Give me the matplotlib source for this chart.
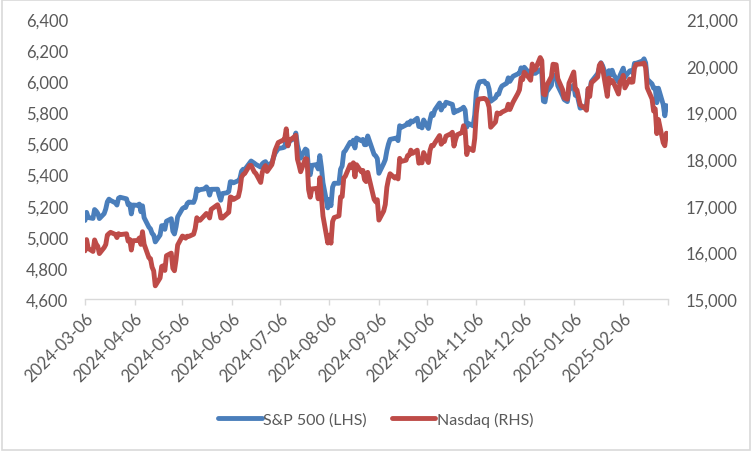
import numpy as np
import pandas as pd
import matplotlib
matplotlib.use("Agg")
import matplotlib.pyplot as plt
from matplotlib.patches import Rectangle

plt.rcParams['font.family'] = ['Lato', 'DejaVu Sans']

# market holidays inside the window (no close)
holidays = ['2024-03-29', '2024-05-27', '2024-06-19', '2024-07-04', '2024-09-02',
            '2024-11-28', '2024-12-25', '2025-01-01', '2025-01-09', '2025-01-20',
            '2025-02-17']

# S&P 500 daily close, 2024-03-06 .. 2025-03-05
spx = [
    5105, 5157, 5124, 5118, 5175, 5165, 5150, 5117, 5149, 5179, 5225, 5242, 5234, 5218, 5204, 5248, 5254,
    5244, 5206, 5211, 5147, 5204, 5202, 5210, 5161, 5199, 5123, 5062, 5051, 5022, 5011, 4967, 5011, 5071,
    5072, 5048, 5100, 5116, 5036,
    5018, 5064, 5128, 5181, 5188, 5188, 5214, 5223, 5221, 5247, 5308, 5297, 5303, 5308, 5321, 5307, 5268,
    5305, 5306, 5267, 5235, 5278,
    5283, 5291, 5354, 5353, 5347, 5361, 5375, 5421, 5434, 5432, 5473, 5487, 5473, 5465, 5448, 5469, 5478,
    5483, 5460,
    5475, 5509, 5537, 5567, 5573, 5577, 5634, 5585, 5615, 5631, 5667, 5588, 5545, 5505, 5564, 5556, 5427,
    5399, 5459, 5464, 5436, 5522,
    5447, 5347, 5186, 5240, 5200, 5319, 5344, 5344, 5434, 5455, 5543, 5554, 5608, 5597, 5621, 5571, 5635,
    5617, 5626, 5592, 5592, 5648,
    5529, 5520, 5503, 5408, 5471, 5496, 5554, 5596, 5626, 5633, 5635, 5618, 5714, 5703, 5719, 5733, 5722,
    5745, 5738, 5762,
    5709, 5710, 5700, 5751, 5696, 5751, 5792, 5780, 5815, 5860, 5815, 5842, 5841, 5865, 5854, 5851, 5797,
    5810, 5808, 5824, 5833, 5814, 5705,
    5729, 5713, 5783, 5929, 5973, 5996, 6001, 5984, 5985, 5949, 5871, 5894, 5917, 5917, 5949, 5969, 5987,
    6022, 5999, 6032,
    6047, 6050, 6086, 6075, 6090, 6053, 6035, 6084, 6051, 6051, 6074, 6051, 5872, 5867, 5931, 5974, 6040,
    6038, 5971, 5907, 5882,
    5869, 5942, 5975, 5909, 5918, 5827, 5836, 5843, 5950, 5937, 5997, 6049, 6086, 6119, 6101, 6012, 6068,
    6039, 6071, 6041,
    5995, 6038, 6061, 6084, 6026, 6066, 6069, 6052, 6115, 6115, 6130, 6144, 6118, 6013, 5983, 5955, 5956,
    5862, 5955,
    5850, 5778, 5843,
]

# Nasdaq Composite daily close, same dates
nasdaq = [
    16032, 16273, 16085, 16019, 16266, 16178, 16129, 15973, 16103, 16167, 16369, 16402, 16429, 16384, 16316,
    16400, 16379,
    16397, 16240, 16277, 16049, 16249, 16254, 16307, 16170, 16442, 16175, 15885, 15865, 15683, 15602, 15282,
    15451, 15697, 15713, 15612, 15928, 15983, 15658,
    15605, 15841, 16156, 16349, 16333, 16303, 16346, 16341, 16388, 16511, 16742, 16698, 16686, 16795, 16833,
    16802, 16736, 16921, 17020, 16921, 16737, 16735,
    16829, 16857, 17188, 17173, 17133, 17193, 17344, 17608, 17668, 17689, 17862, 17862, 17722, 17689, 17497,
    17718, 17805, 17859, 17733,
    17879, 18029, 18188, 18353, 18404, 18429, 18647, 18283, 18398, 18473, 18509, 17997, 17871, 17727, 18008,
    17997, 17342, 17182, 17358, 17370, 17147, 17599,
    17194, 16776, 16200, 16367, 16196, 16660, 16745, 16781, 17188, 17193, 17595, 17632, 17877, 17817, 17919,
    17619, 17878, 17726, 17755, 17556, 17516, 17714,
    17136, 17084, 17128, 16691, 16885, 17026, 17396, 17570, 17684, 17592, 17628, 17573, 18014, 17948, 17974,
    18075, 18082, 18190, 18120, 18189,
    17910, 17925, 17918, 18138, 17924, 18183, 18292, 18282, 18343, 18503, 18316, 18367, 18374, 18490, 18540,
    18573, 18277, 18415, 18519, 18567, 18713, 18608, 18095,
    18240, 18180, 18439, 18983, 19269, 19287, 19299, 19281, 19231, 19108, 18680, 18792, 18987, 18966, 18972,
    19004, 19055, 19174, 19060, 19218,
    19404, 19481, 19735, 19700, 19860, 19737, 19687, 20035, 19903, 19927, 20174, 20109, 19393, 19373, 19573,
    19765, 20031, 20020, 19722, 19487, 19311,
    19281, 19622, 19865, 19490, 19479, 19162, 19088, 19044, 19511, 19338, 19630, 19757, 20009, 20054, 19954,
    19342, 19734, 19632, 19682, 19627,
    19392, 19654, 19692, 19792, 19523, 19714, 19644, 19650, 19946, 20027, 20041, 20056, 19962, 19524, 19287,
    19026, 19075, 18544, 18847,
    18350, 18285, 18553,
]

tick_labels = ['2024-03-06', '2024-04-06', '2024-05-06', '2024-06-06', '2024-07-06', '2024-08-06',
               '2024-09-06', '2024-10-06', '2024-11-06', '2024-12-06', '2025-01-06', '2025-02-06']

dates = pd.bdate_range('2024-03-06', '2025-03-05', freq='C', holidays=holidays)
n = min(len(dates), len(spx), len(nasdaq))

blue = '#4A7EBB'
red = '#BE4B48'
grey_txt = '#595959'
axis_grey = '#D9D9D9'

fig = plt.figure(figsize=(7.52, 4.52), dpi=100)
ax = fig.add_axes([85 / 752, 1 - 300 / 452, 583 / 752, 280 / 452])
ax2 = ax.twinx()

l1, = ax.plot(dates[:n], spx[:n], color=blue, lw=3.5, solid_capstyle='round', label='S&P 500 (LHS)')
l2, = ax2.plot(dates[:n], nasdaq[:n], color=red, lw=3.5, solid_capstyle='round', label='Nasdaq (RHS)')
ax2.set_zorder(ax.get_zorder() + 1)

fmt = matplotlib.ticker.FuncFormatter(lambda v, p: f'{v:,.0f}')
ax.set_ylim(4600, 6400)
ax.set_yticks(np.arange(4600, 6401, 200))
ax2.set_ylim(15000, 21000)
ax2.set_yticks(np.arange(15000, 21001, 1000))
ax.yaxis.set_major_formatter(fmt)
ax2.yaxis.set_major_formatter(fmt)

x0 = pd.Timestamp('2024-03-06')
x1 = pd.Timestamp('2025-03-06')
ax.set_xlim(x0, x1)
tick_pos = [pd.Timestamp(t) for t in tick_labels] + [x1]
ax.set_xticks(tick_pos)
ax.set_xticklabels(tick_labels + [''], rotation=45, ha='right', rotation_mode='anchor')

for a in (ax, ax2):
    for s in ('top', 'left', 'right', 'bottom'):
        a.spines[s].set_visible(False)
ax.spines['bottom'].set_visible(True)
ax.spines['bottom'].set_color(axis_grey)
ax.spines['bottom'].set_linewidth(1.0)

ax.tick_params(axis='y', length=0, pad=12, labelsize=12, labelcolor=grey_txt)
ax2.tick_params(axis='y', length=0, pad=13, labelsize=12, labelcolor=grey_txt)
ax.tick_params(axis='x', length=4, width=1.0, color=axis_grey, pad=4, labelsize=12, labelcolor=grey_txt)

fig.legend(handles=[l1, l2], loc='center', bbox_to_anchor=(0.5, 1 - 420 / 452), ncol=2,
           frameon=False, fontsize=11.5, labelcolor=grey_txt, handlelength=2.7,
           handletextpad=0.1, columnspacing=1.6)

fig.patches.append(Rectangle((0.002, 0.002), 0.996, 0.996, transform=fig.transFigure,
                             fill=False, edgecolor=axis_grey, lw=1.2))

fig.savefig('out.png', dpi=100)
